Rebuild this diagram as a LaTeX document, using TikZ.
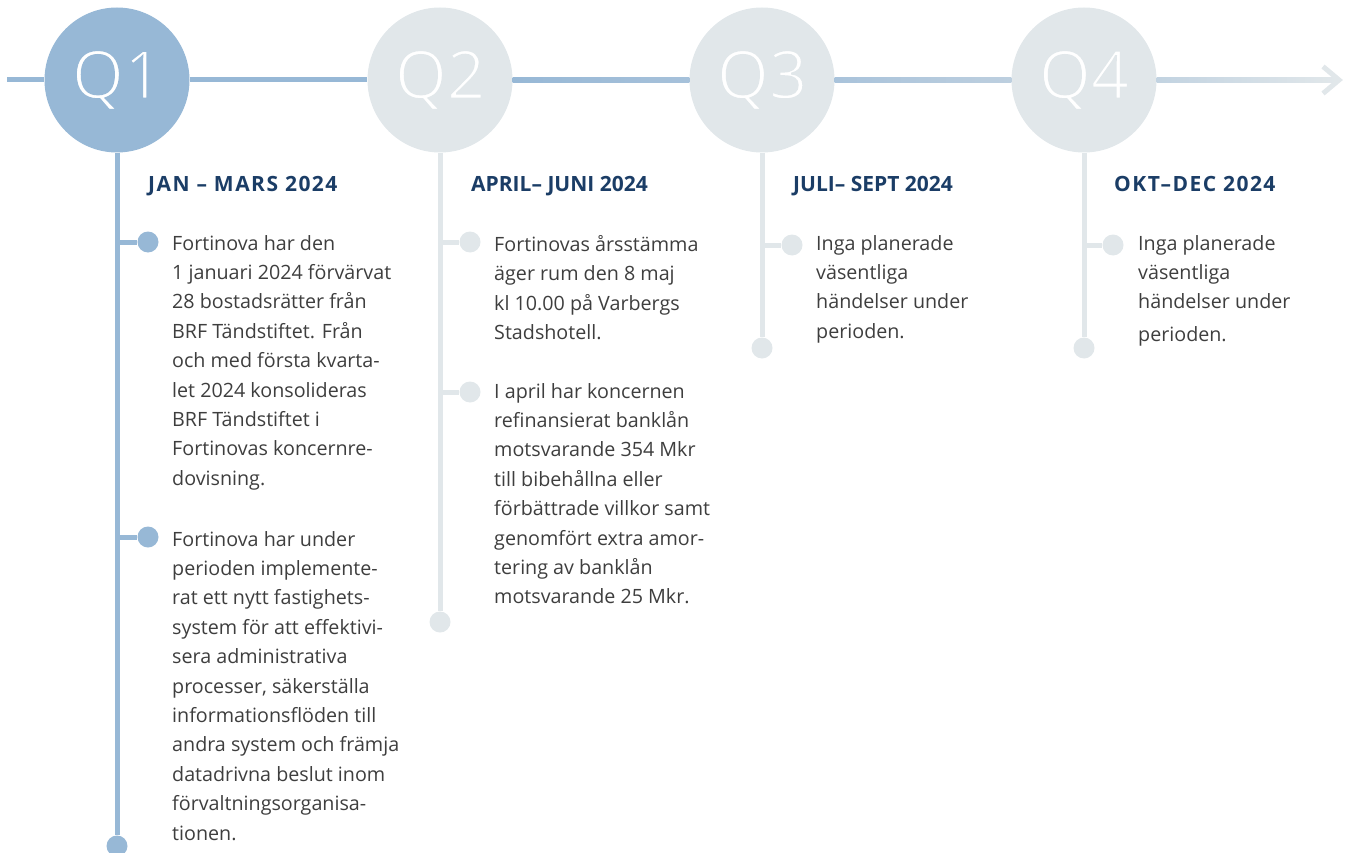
\documentclass[tikz,border=0pt]{standalone}
\usepackage{fontspec}
\setmainfont{Open Sans}
\usetikzlibrary{positioning}

\definecolor{qblue}{HTML}{97B8D6}
\definecolor{qgrey}{HTML}{E1E7EA}
\definecolor{navy}{HTML}{1B3D66}
\definecolor{bodytext}{HTML}{3E3E3E}

% thin the big white labels by stroking the glyph outlines in the circle colour
\newcommand\qthin[2]{\special{pdf:literal direct 2 Tr 2 w #1 RG}#2\special{pdf:literal direct 0 Tr}}

\tikzset{
  quarter/.style={circle, fill=#1, minimum size=145pt, inner sep=0pt,
    text=white, font=\fontsize{67}{67}\selectfont},
  dot/.style={circle, fill=#1, minimum size=21pt, inner sep=0pt},
  stem/.style={draw=#1, line width=5pt},
  head/.style={anchor=base west, inner sep=0pt, text=navy,
    font=\fontsize{21}{25}\selectfont\bfseries},
  wide/.style={font=\fontsize{21}{25}\selectfont\bfseries\addfontfeature{LetterSpace=7}},
  body/.style={anchor=north west, inner sep=0pt, align=left, text=bodytext,
    font=\fontsize{19.7}{29.4}\selectfont},
}

\begin{document}
\begin{tikzpicture}[x=1pt,y=-1pt]
  \useasboundingbox (0,0) rectangle (1348,853);

  \node[quarter=qblue] (q1) at (117,80) {\qthin{0.592 0.722 0.839}{Q1}};
  \node[quarter=qgrey] (q2) at (440,80) {\qthin{0.882 0.906 0.918}{Q2}};
  \node[quarter=qgrey] (q3) at (762,80) {\qthin{0.882 0.906 0.918}{Q3}};
  \node[quarter=qgrey] (q4) at (1084,80) {\qthin{0.882 0.906 0.918}{Q4}};

  \coordinate (start) at (7,80);
  \coordinate (tip) at (1339,80);

  % time axis
  \draw[stem=qblue] (start) -- (q1);
  \draw[stem=qblue] (q1) -- (q2);
  \shade[left color=qblue, right color={rgb,255:red,166;green,193;blue,218}]
    ([yshift=-2.5pt]q2.east) rectangle ([yshift=2.5pt]q3.west);
  \shade[left color={rgb,255:red,169;green,195;blue,219}, right color={rgb,255:red,189;green,207;blue,223}]
    ([yshift=-2.5pt]q3.east) rectangle ([yshift=2.5pt]q4.west);
  \shade[left color={rgb,255:red,194;green,211;blue,225}, right color=qgrey]
    ([yshift=-2.5pt]q4.east) rectangle ([yshift=2.5pt,xshift=-3pt]tip);
  \draw[qgrey, line width=5pt, miter limit=10]
    ([xshift=-16pt,yshift=-13.5pt]tip) -- (tip) -- ([xshift=-16pt,yshift=13.5pt]tip);

  % Q1
  \node[head, wide] (h1) at (148,191) {JAN – MARS 2024};
  \node[dot=qblue] (d11) at (148,242) {};
  \node[dot=qblue] (d12) at (148,537) {};
  \node[dot=qblue] (e1) at (117,846) {};
  \draw[stem=qblue] (q1) -- (e1);
  \draw[stem=qblue] (q1 |- d11) -- (d11);
  \draw[stem=qblue] (q1 |- d12) -- (d12);
  \node[body] (t11) at (172,235) {Fortinova har den\\1 januari 2024 förvärvat\\28 bostadsrätter från\\
    BRF Tändstiftet. Från\\och med första kvarta-\\let 2024 konsolideras\\BRF Tändstiftet i\\
    Fortinovas koncernre-\\dovisning.};
  \node[body] (t12) at (172,531) {Fortinova har under\\perioden implemente-\\rat ett nytt fastighets-\\
    system för att effektivi-\\sera administrativa\\processer, säkerställa\\informationsflöden till\\
    andra system och främja\\datadrivna beslut inom\\förvaltningsorganisa-\\tionen.};

  % Q2
  \node[head] (h2) at (471,191) {APRIL– JUNI 2024};
  \node[dot=qgrey] (d21) at (470,242) {};
  \node[dot=qgrey] (d22) at (470,392) {};
  \node[dot=qgrey] (e2) at (440,622) {};
  \draw[stem=qgrey] (q2) -- (e2);
  \draw[stem=qgrey] (q2 |- d21) -- (d21);
  \draw[stem=qgrey] (q2 |- d22) -- (d22);
  \node[body] (t21) at (494,235) {Fortinovas årsstämma\\äger rum den 8 maj\\kl 10.00 på Varbergs\\Stadshotell.};
  \node[body] (t22) at (494,383) {I april har koncernen\\refinansierat banklån\\motsvarande 354 Mkr\\
    till bibehållna eller\\förbättrade villkor samt\\genomfört extra amor-\\tering av banklån\\
    motsvarande 25 Mkr.};

  % Q3
  \node[head] (h3) at (793,191) {JULI– SEPT 2024};
  \node[dot=qgrey] (d31) at (792,245) {};
  \node[dot=qgrey] (e3) at (762,348) {};
  \draw[stem=qgrey] (q3) -- (e3);
  \draw[stem=qgrey] (q3 |- d31) -- (d31);
  \node[body] (t31) at (816,235) {Inga planerade\\väsentliga\\händelser under\\perioden.};

  % Q4
  \node[head, wide] (h4) at (1114,191) {OKT–DEC 2024};
  \node[dot=qgrey] (d41) at (1113,245) {};
  \node[dot=qgrey] (e4) at (1084,348) {};
  \draw[stem=qgrey] (q4) -- (e4);
  \draw[stem=qgrey] (q4 |- d41) -- (d41);
  \node[body] (t41) at (1138,235) {Inga planerade\\väsentliga\\händelser under\\[3pt]perioden.};
\end{tikzpicture}
\end{document}
